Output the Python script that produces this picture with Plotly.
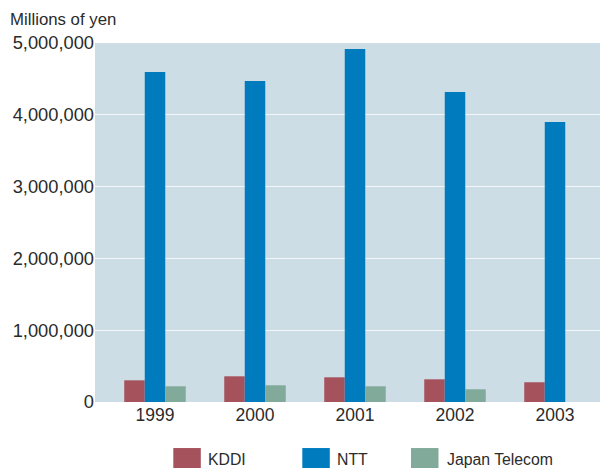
import plotly.graph_objects as go

years = ["1999", "2000", "2001", "2002", "2003"]
series_names = ["KDDI", "NTT", "Japan Telecom"]
kddi = [302000, 358000, 344000, 316000, 275000]
ntt = [4596000, 4470000, 4916000, 4317000, 3899000]
japan_telecom = [219000, 233000, 219000, 177000, None]
y_tick_vals = [0, 1000000, 2000000, 3000000, 4000000, 5000000]
y_tick_text = ["0", "1,000,000", "2,000,000", "3,000,000", "4,000,000", "5,000,000"]
y_title = "Millions of yen"

colors = ["#A6525C", "#007CBE", "#82AA9B"]
values = [kddi, ntt, japan_telecom]
text_color = "#2b2b2b"
regular = "Liberation Sans, Arial, Helvetica, sans-serif"

OFF = 8  # page body margin
SCREEN_W, SCREEN_H = 608, 468
W, H = SCREEN_W - OFF, SCREEN_H - OFF
plot_left, plot_top, plot_right, plot_bottom = 95, 43, 608, 401.7  # screen px
L = plot_left - OFF
T = plot_top - OFF
R = SCREEN_W - plot_right
B = H - (plot_bottom - OFF)
pw = W - L - R
ph = H - T - B

fig = go.Figure()
for name, vals, col in zip(series_names, values, colors):
    fig.add_trace(go.Bar(x=years, y=vals, name=name, marker_color=col,
                         marker_line_width=0, showlegend=False))

def sx(px):
    return (px - plot_left) / pw

def sy(py):
    return (plot_bottom - py) / ph

# custom legend
swatch_x = [173.3, 302.3, 411.0]
swatch_w = 27.5
text_x = [206.7, 336.0, 445.7]
shapes = []
annotations = []
for i, (name, col) in enumerate(zip(series_names, colors)):
    shapes.append(dict(type="rect", xref="paper", yref="paper",
                       x0=sx(swatch_x[i]), x1=sx(swatch_x[i] + swatch_w),
                       y0=sy(447.7), y1=sy(472),
                       fillcolor=col, line_width=0, layer="above"))
    annotations.append(dict(text=name, xref="paper", yref="paper",
                            x=sx(text_x[i] - 1), y=sy(459.0),
                            xanchor="left", yanchor="middle", showarrow=False,
                            font=dict(family=regular, size=15.8, color=text_color)))

annotations.append(dict(text=y_title, xref="paper", yref="paper",
                        x=sx(8), y=sy(20),
                        xanchor="left", yanchor="middle", showarrow=False,
                        font=dict(family=regular, size=16.8, color=text_color)))

fig.update_layout(
    width=W, height=H,
    margin=dict(l=L, r=R, t=T, b=B, pad=0),
    paper_bgcolor="white",
    plot_bgcolor="#CCDDE6",
    barmode="group",
    bargap=0.385,
    bargroupgap=0,
    shapes=shapes,
    annotations=annotations,
    font=dict(family=regular, color=text_color),
)
fig.update_xaxes(range=[-0.6, 4.53], showgrid=False, zeroline=False, showline=False,
                 ticks="", ticklabelstandoff=0,
                 tickfont=dict(family=regular, size=17.5, color=text_color),
                 fixedrange=True)
fig.update_yaxes(range=[0, 5000000], tickvals=y_tick_vals, ticktext=y_tick_text,
                 showgrid=True, gridcolor="#F2F6F8", gridwidth=1.3,
                 zeroline=False, showline=False,
                 ticks="",
                 tickfont=dict(family=regular, size=18.3, color=text_color),
                 fixedrange=True)

fig.write_html("out.html", config={"displayModeBar": False})
